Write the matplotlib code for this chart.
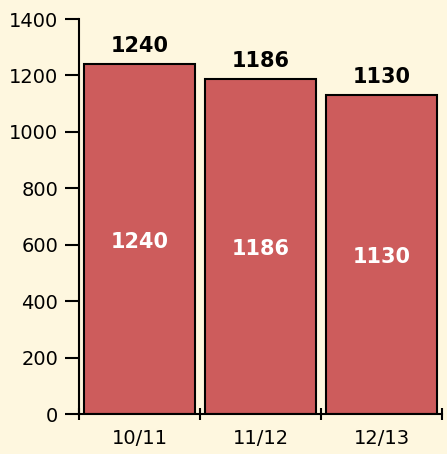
import numpy as np
import matplotlib.pyplot as plt

seasons = ["10/11", "11/12", "12/13"]
values = [1240, 1186, 1130]

bg = "#FEF7DF"
bar_color = "#CD5C5C"

fig = plt.figure(figsize=(4.47, 4.54), dpi=100, facecolor=bg)
ax = fig.add_axes([0.1767, 0.0881, 0.8121, 0.87])
ax.set_facecolor(bg)

x = np.arange(len(seasons))
ax.bar(x, values, width=0.91, color=bar_color, edgecolor="black", linewidth=1.5)

for xi, v in zip(x, values):
    ax.annotate(str(v), (xi, v), xytext=(0, 6), textcoords="offset points",
                ha="center", va="bottom", fontsize=15, fontweight="bold", color="black")
    ax.annotate(str(v), (xi, v / 2), xytext=(0, -2), textcoords="offset points",
                ha="center", va="center", fontsize=15, fontweight="bold", color="white")

ax.set_xlim(-0.5, 2.5)
ax.set_ylim(0, 1400)
ax.set_yticks(np.arange(0, 1401, 200))
ax.set_xticks(x)
ax.set_xticklabels(seasons)
ax.set_xticks(np.arange(-0.5, 2.6, 1), minor=True)
ax.tick_params(axis="x", which="major", length=0, labelsize=14, pad=11)
ax.tick_params(axis="x", which="minor", direction="inout", length=8, width=1.5)
ax.tick_params(axis="y", direction="out", length=10, width=1.5, labelsize=14, pad=5)

for s in ["top", "right"]:
    ax.spines[s].set_visible(False)
for s in ["left", "bottom"]:
    ax.spines[s].set_linewidth(1.5)

fig.savefig("out.png", dpi=100, facecolor=bg)
